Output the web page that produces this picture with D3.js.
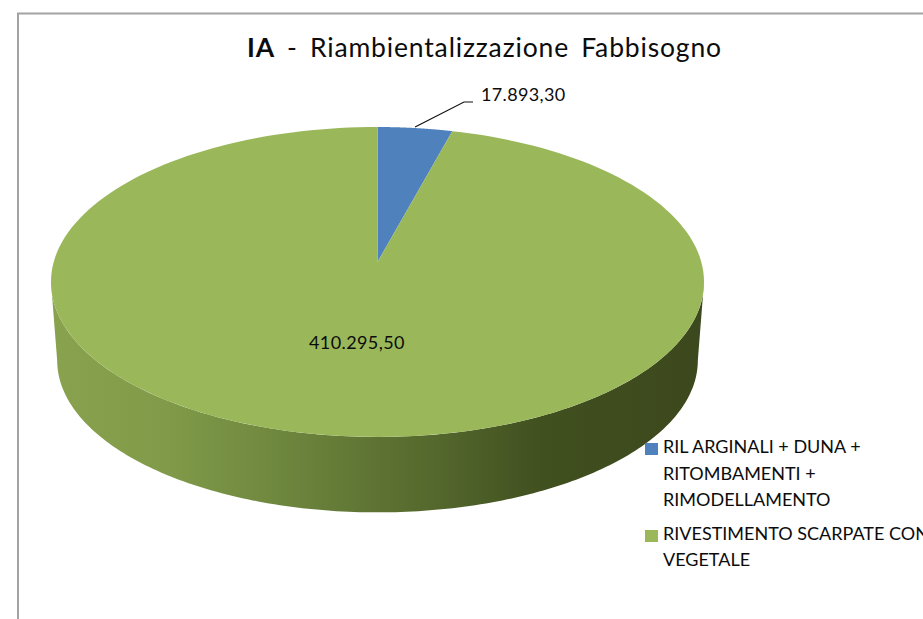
<!DOCTYPE html>
<html><head><meta charset="utf-8">
<script src="https://cdn.jsdelivr.net/npm/d3@7/dist/d3.min.js"></script>
<style>html,body{margin:0;padding:0;background:#fff;overflow:hidden}svg{display:block}text{font-family:Lato,"Open Sans",sans-serif;fill:#0c0c0c}</style>
</head><body><svg id="c" width="923" height="619"></svg>
<script>
const categories = ["RIL ARGINALI + DUNA +\nRITOMBAMENTI +\nRIMODELLAMENTO", "RIVESTIMENTO SCARPATE CON\nVEGETALE"];
const values = [17893.30, 410295.50];
const valueLabels = ["17.893,30", "410.295,50"];
const colors = ["#4f81bd", "#9ab85a"];
const wallStops = [[0,"#88a24e"],[0.18,"#809a49"],[0.35,"#6e873e"],[0.5,"#5e7333"],[0.65,"#4d5f28"],[0.75,"#41501f"],[1,"#3c481d"]];

const svg = d3.select("#c");
svg.append("path").attr("d","M18,619V13.5H923").attr("fill","none").attr("stroke","#a3a3a3").attr("stroke-width",2);

// perspective projection of the unit disc
const cx=377.5, k=0.129, a=-118.6, b=262, c=323.8;
const face = t => { const u=Math.sin(t), v=Math.cos(t), w=1+k*v; return [cx+c*u/w, (a*v+b)/w]; };
const base = t => { const p=face(t); return [cx+(p[0]-cx)*0.981, 360.5+(p[1]-282)*0.98]; };
const line = d3.line();
const arc = (fn,t0,t1) => d3.range(0,181).map(i=>fn(t0+(t1-t0)*i/180));

const defs = svg.append("defs");
const grad = defs.append("linearGradient").attr("id","wall").attr("gradientUnits","userSpaceOnUse")
  .attr("x1",51).attr("x2",704).attr("y1",0).attr("y2",0);
wallStops.forEach(s=>grad.append("stop").attr("offset",s[0]).attr("stop-color",s[1]));

// side wall
const tR=Math.acos(-k), tL=2*Math.PI-tR;
const wall = arc(face,tR,tL).concat(arc(base,tL,tR));
svg.append("path").attr("d",line(wall)+"Z").attr("fill","url(#wall)");

// top face slices
const pie = d3.pie().sort(null).value(d=>d)(values);
svg.selectAll("path.slice").data(pie).enter().append("path").attr("class","slice")
  .attr("d",d=>line([[cx,b]].concat(arc(face,d.startAngle,d.endAngle)))+"Z")
  .attr("fill",(d,i)=>colors[i]);

// labels
const mid = face((pie[0].startAngle+pie[0].endAngle)/2);
const path0 = d3.path(); path0.moveTo(mid[0],mid[1]-1); path0.lineTo(464,102); path0.lineTo(473,102);
svg.append("path").attr("d",path0.toString()).attr("fill","none").attr("stroke","#111").attr("stroke-width",1.2);
svg.append("text").attr("x",481).attr("y",101).attr("font-size",18).style("letter-spacing","0.35px").text(valueLabels[0]);
svg.append("text").attr("x",309).attr("y",349).attr("font-size",18).style("letter-spacing","0.4px").text(valueLabels[1]);

// title
const title = svg.append("text").attr("x",247).attr("y",57).attr("font-size",26.5).style("word-spacing","4.5px").style("letter-spacing","0.85px");
title.append("tspan").attr("font-weight",700).text("IA");
title.append("tspan").text(" - Riambientalizzazione Fabbisogno");

// legend
const legY=[[453,480,506],[540,566]], swY=[443,530];
categories.forEach((cat,i)=>{
  svg.append("rect").attr("x",645).attr("y",swY[i]).attr("width",13).attr("height",12).attr("fill",colors[i]);
  cat.split("\n").forEach((l,j)=>svg.append("text").attr("x",663).attr("y",legY[i][j]).attr("font-size",18).text(l));
});
</script></body></html>
